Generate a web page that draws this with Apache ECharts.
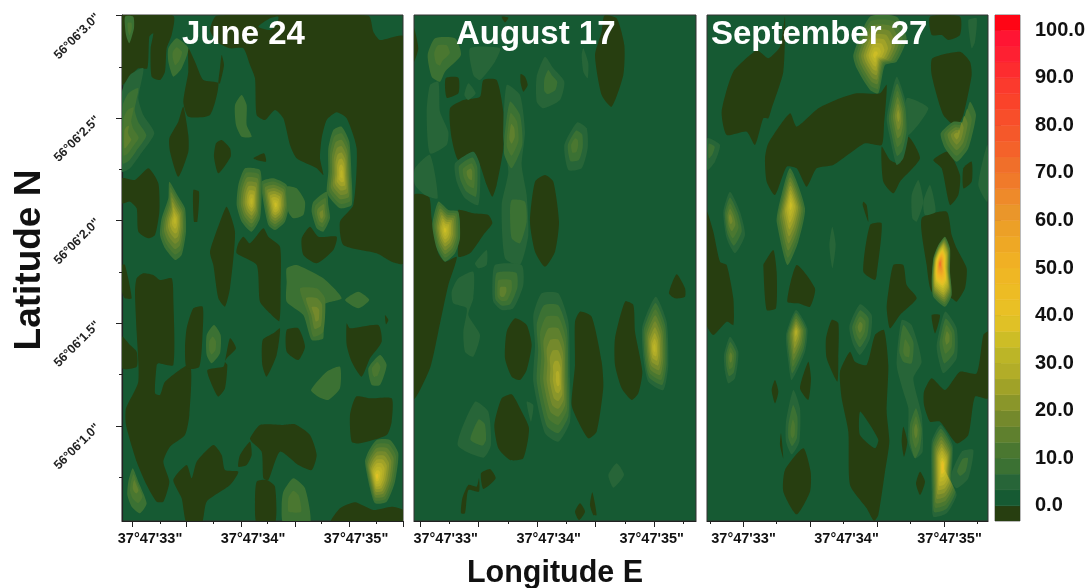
<!DOCTYPE html>
<html><head><meta charset="utf-8">
<style>html,body{margin:0;padding:0;background:#fff}#c{width:1091px;height:588px;filter:blur(0.5px)}</style>
<script src="https://cdn.jsdelivr.net/npm/echarts@6/dist/echarts.min.js"></script>
</head><body><div id="c"></div>
<script>
// Contour bands (colour bar): one band per 3.33 units, from below zero to just over 100
const bandColors=['#273e10','#165a33','#276538','#3b7133','#4a7730','#5f802e','#74892c','#8a962a','#a0a228','#b2ad28','#bcb527','#cdbd26','#e0c126','#e9c025','#edbc24','#efb724','#f0b024','#eea825','#eca027','#ea962a','#ee8a2a','#f07a2a','#f06f2a','#f4622a','#f5582a','#f84e2a','#fa432a','#fb3a2d','#fd2c2f','#fe2032','#ff1533','#ff0515'];
const bandStep=10/3;
const colorTicks=[0,10,20,30,40,50,60,70,80,90,100];
const lonLabelValues=[33,34,35];
const latLabelValues=[3.0,2.5,2.0,1.5,1.0];
const latMinorValues=[2.75,2.25,1.75,1.25,0.75];
const panelTitles=['June 24','August 17','September 27'];

// Digitised contours. Below-zero regions: flat x,y lists. Peaks: [peakX,peakY,peakValue,outerValue,[outline]]
const juneBelow=[
[36,32,190,32,185,90,170,130,165,200,150,225,125,215,122,130,130,85,118,95,112,190,85,190,60,215,36,240],
[235,130,255,170,280,225,325,235,300,330,235,335,220,290,235,200],
[335,150,342,180,330,235,325,235,330,190],
[320,32,775,32,790,80,810,105,880,95,880,775,845,770,800,745,700,720,690,650,730,600,740,430,710,340,680,322,650,345,635,400,630,460,640,510,620,490,560,460,540,420,520,340,495,315,465,345,440,330,435,220,420,180,400,130,360,130,320,110,300,75],
[220,305,235,390,235,440,205,515,180,440,178,400,205,350],
[335,405,360,430,362,455,325,505,312,455,318,415],
[430,460,462,445,468,470,440,465],
[36,520,75,525,115,490,145,535,148,620,135,690,115,700,85,680,80,610,60,590,36,595],
[250,555,267,560,262,650,252,650],
[350,605,375,680,360,850,345,905,325,880,310,780,300,740,330,650],
[385,715,400,695,420,715,460,670,475,695,510,725,512,850,508,948,480,925,450,890,440,780,380,745],
[575,700,600,665,625,695,680,695,670,735,620,775,580,750]];
const juneBelowLower=[
[80,40,100,25,130,30,150,45,185,40,190,100,190,300,145,295,140,300,135,385,150,390,165,350,240,300,238,450,225,510,180,545,160,590,178,650,160,710,140,710,110,660,80,590,48,480,48,430,85,350,80,200,75,80],
[36,0,45,0,65,100,45,100,36,80],
[36,215,60,240,80,260,80,305,36,310],
[230,190,250,130,278,125,278,200,268,305,230,310,225,250],
[360,220,378,250,350,280,345,290,352,300,345,370,325,395,310,370,292,315,340,305,345,290],
[458,225,490,205,510,190,500,270,470,335,457,300],
[530,195,565,190,585,245,565,285,530,260],
[710,175,720,190,805,180,815,230,780,280,755,335,725,290,710,240],
[825,150,835,165,828,178],
[738,395,780,400,845,400,845,470,830,510,750,535,725,530,720,450],
[420,520,450,480,520,480,555,478,600,510,620,570,605,615,565,600,510,560,475,645,460,640,455,560,425,530],
[390,570,420,530,425,570,410,600,385,605],
[190,645,230,600,245,640,260,590,310,540,335,570,345,615,385,620,360,660,290,710,275,775,230,775,215,700],
[440,650,470,645,495,665,495,775,440,775,435,710],
[662,775,690,730,735,712,790,735,845,725,880,735,880,775]];
const juneZero=[[445,65,480,40,505,35,500,60,480,75]];
const junePeaks=[
[60,70,10,7,[45,35,70,35,72,70,58,115,48,90]],
[200,150,13,7,[175,130,200,100,235,130,215,190,190,215,175,170]],
[45,410,16,5,[36,260,60,210,100,190,85,280,100,330,133,385,90,450,60,490,36,500]],
[395,330,8,7,[375,300,395,270,410,300,410,360,425,395,395,395,378,360]],
[695,510,33,7,[655,430,670,375,695,365,718,410,725,520,725,600,690,610,660,580,650,560,655,500]],
[425,590,32,7,[385,540,405,490,450,495,455,560,450,640,425,680,395,650,380,600]],
[497,600,34,7,[455,530,490,520,530,540,537,600,525,650,495,675,475,660,460,590]],
[560,590,9,7,[530,545,560,550,585,590,580,630,550,640,535,620]],
[635,630,18,7,[610,590,650,560,655,600,660,640,640,680,620,670,605,620]],
[195,645,30,7,[178,530,205,575,225,610,228,680,215,750,195,765,165,730,150,690,155,640,175,580]]];
const junePeaksLower=[
[800,635,38,7,[775,560,800,525,840,525,865,565,855,650,830,710,795,715,780,670,765,590]],
[550,710,12,7,[520,680,550,640,585,670,600,775,520,775,515,720]],
[75,660,14,7,[55,650,68,610,85,650,110,715,90,745,65,725,52,690]],
[305,245,12,7,[290,210,312,180,332,210,330,265,305,295,290,270]],
[420,255,6,7,[403,250,425,215,443,240,420,310,408,280]],
[600,80,7,7,[530,50,530,10,560,0,640,40,695,100,640,120,640,220,605,225,580,150,530,110]],
[620,150,18,10,[570,70,620,70,645,100,640,200,610,215,595,150]],
[745,105,7,7,[705,105,745,80,778,105,745,130]],
[795,310,10,7,[775,310,810,270,830,300,810,360,785,360]],
[860,300,6,7,[855,295,875,270,878,325,860,325]],
[650,350,8,7,[603,375,650,320,690,305,690,370,655,405,625,395]],
[75,180,6,7,[60,170,75,155,88,180,75,205]]];

const augBelow=[
[135,310,175,285,225,275,235,225,275,225,295,320,295,430,275,540,262,575,245,540,225,480,205,440,160,465,140,400],
[122,220,160,218,160,265,125,278],
[347,207,360,215,368,240,355,260,347,235],
[598,32,635,40,658,120,655,210,620,305,590,270,570,150,590,80],
[27,70,40,130,27,170],
[290,35,310,38,300,52],
[420,510,445,530,462,650,450,740,420,785,390,740,375,650,390,530],
[27,570,72,575,80,640,100,745,120,770,155,755,150,780,130,840,100,980,75,1090,27,1180],
[160,615,205,625,250,630,262,655,235,690,195,745,160,755,165,650]];
const augBelowLower=[
[305,200,330,160,365,180,380,240,365,315,345,345,320,335,300,280],
[268,480,290,400,320,388,345,430,372,490,355,580,315,585,280,550],
[510,170,525,140,560,155,590,290,595,365,575,500,550,520,520,470,500,420,510,300],
[630,220,660,110,685,120,690,200,712,320,700,385,680,405,650,370,630,300],
[792,85,815,28,840,70,840,95,810,100],
[228,625,255,612,272,640,235,672],
[168,745,172,700,190,660,215,665,222,640,222,680,190,675,180,745],
[510,740,525,715,540,740,522,765],
[555,720,562,682,575,750,565,750]];
const augPeaks=[
[105,140,10,7,[68,150,90,100,150,100,168,150,120,200,105,230,80,215]],
[220,170,6,5,[195,130,285,130,270,170,225,225,205,210]],
[438,230,9,5,[395,215,420,155,445,190,478,230,465,285,415,310,395,290]],
[540,170,4,4,[530,150,535,130,550,175,548,220,535,200]],
[507,420,12,5,[478,420,517,352,545,370,548,430,530,490,490,495]],
[190,265,5,4,[178,270,190,235,212,265,190,285]],
[100,340,6,5,[65,320,75,240,100,230,105,320,130,380,125,420,75,445]],
[340,640,6,5,[295,400,305,240,345,270,360,380,350,480,365,570,370,690,345,780,300,760,290,600,310,500]],
[320,385,15,8,[298,400,315,290,345,330,352,420,320,490,298,450]],
[340,640,9,8,[315,620,320,585,360,590,365,650,345,715,320,700]],
[195,505,15,5,[150,475,205,440,225,480,220,600,180,580,155,530]],
[60,520,5,4,[30,490,75,450,98,580,60,570,30,540]],
[120,675,36,7,[82,660,100,590,130,615,160,620,165,700,150,745,120,770,95,730]],
[230,760,5,4,[210,775,245,735,245,780,220,790]]];
const augPeaksLower=[
[175,70,6,5,[140,80,160,40,205,20,205,100,190,150,225,210,205,275,180,260,175,200,185,130,145,115]],
[290,85,14,5,[262,70,270,0,350,0,355,60,325,130,290,135,265,110]],
[460,345,29,5,[385,150,410,85,460,85,490,170,495,340,495,470,460,530,420,505,385,350,390,240]],
[748,250,33,5,[712,185,752,95,785,170,790,300,775,375,730,350,715,280]],
[230,510,7,5,[158,540,210,410,250,440,258,540,235,578]],
[373,430,4,4,[365,410,385,420,378,470]],
[632,630,6,5,[610,630,635,595,657,630,625,668]]];

const sepBelow=[
[255,35,250,200,215,310,205,340,190,340,165,420,140,380,80,390,65,320,100,200,170,135,185,145,205,160,240,125],
[205,415,270,325,290,365,355,310,420,280,470,265,540,265,560,240,552,360,545,420,495,415,450,445,400,480,350,490,320,545,290,490,260,485,225,570,200,530,195,460],
[545,425,570,465,600,475,625,395,660,460,600,530,580,565,550,530],
[690,35,780,35,780,90,745,105,725,90,695,90],
[697,160,780,140,810,170,815,210,790,330,770,365,730,330,695,210],
[700,465,745,440,780,510,775,570,750,600,725,490],
[790,490,815,470,815,530,790,550],
[665,640,740,620,755,690,770,730,800,790,795,850,770,890,755,880,695,860,680,780],
[20,620,40,680,60,770,80,780,100,880,100,960,80,950,40,990,20,960],
[195,770,220,735,230,800,228,910,200,915,190,780],
[510,660,545,655,530,810,525,825,490,800],
[490,590,500,600,505,650,488,600]];
const sepBelowLower=[
[262,110,290,0,345,70,330,125,295,115],
[580,0,610,0,620,60,650,100,600,150,570,190,560,130,565,80],
[695,150,720,150,705,205],
[395,165,415,175,415,280,412,350,380,280,378,220],
[450,260,465,290,500,300,525,210,552,195,565,300,560,440,568,530,555,620,535,750,522,768,500,730,450,660,445,500,425,400,420,320],
[672,380,695,340,735,375,780,320,830,325,850,210,864,200,864,400,825,395,805,510,770,535,720,470,690,470,672,420],
[225,345,235,380,225,415,215,375],
[325,290,333,340,325,405,300,370],
[243,505,250,580,240,540],
[610,485,622,530,612,575,605,530],
[660,620,675,650,660,690,648,655],
[255,615,310,550,332,620,330,680,290,748,250,680]];
const sepZeroLower=[[480,440,510,480,535,525,525,550,480,510]];
const sepPeaks=[
[525,150,34,7,[460,150,510,35,590,35,620,100,590,170,555,180,535,265,510,255,470,190]],
[640,310,6,5,[620,280,685,310,625,390]],
[595,330,22,5,[560,340,590,215,620,300,625,390,610,460,590,480,570,400]],
[770,390,22,7,[722,385,760,350,790,350,810,290,828,330,805,430,770,470,735,430]],
[272,600,36,7,[235,610,270,490,315,610,295,710,262,780,230,650]],
[90,640,18,5,[70,620,90,560,120,620,135,690,105,745,80,700]],
[30,430,7,5,[22,400,60,420,45,470,22,495]],
[397,720,6,5,[388,720,397,665,407,720,397,790]],
[653,590,6,5,[635,570,655,525,670,590,650,650,637,640]],
[690,590,6,5,[670,590,690,540,707,620,675,630]],
[820,100,5,4,[805,45,830,40,825,110,815,130]],
[848,510,4,4,[835,540,862,420,862,590]],
[720,775,72,7,[700,760,715,720,735,695,750,730,750,800,755,870,735,905,700,875,695,830]]];
const sepPeaksLower=[
[742,215,14,5,[710,240,735,140,770,190,770,280,730,325,715,280]],
[288,200,28,5,[258,210,288,135,322,190,315,260,275,345,265,290]],
[480,185,15,5,[448,185,480,118,515,150,510,220,480,270,460,240]],
[92,275,14,5,[72,270,90,215,115,260,105,340,85,355,75,320]],
[622,300,6,5,[590,300,605,165,635,180,665,290,640,340,665,450,668,560,645,580,625,530,625,430,610,380]],
[620,260,12,8,[598,260,610,180,640,230,635,295,610,290]],
[648,495,15,8,[630,480,648,430,665,490,660,550,645,580,630,530]],
[278,500,13,5,[258,470,280,375,300,430,298,530,275,568,258,530]],
[790,600,7,5,[750,640,785,560,820,555,805,640,770,670]],
[728,605,42,5,[695,530,722,480,758,540,755,650,770,690,740,745,700,755,695,680]]];

const lowerShift=780;
const latScale=205.2;
const panels=[
 {title:panelTitles[0],titleLeft:182,below:juneBelow,belowL:juneBelowLower,zero:juneZero,zeroL:[],peaks:junePeaks,peaksL:junePeaksLower,
  cropX:110,label33:150,left:122,right:403,
  major:[32.832,33.356,33.883,34.408,34.932,35.456],minor:[33.097,33.618,34.143,34.667,35.194]},
 {title:panelTitles[1],titleLeft:456,below:augBelow,belowL:augBelowLower,zero:[],zeroL:[],peaks:augPeaks,peaksL:augPeaksLower,
  cropX:405,label33:445.7,left:414,right:696,
  major:[32.753,33.320,33.889,34.456,35.022],minor:[33.035,33.605,34.171,34.741,35.307]},
 {title:panelTitles[2],titleLeft:711,below:sepBelow,belowL:sepBelowLower,zero:[],zeroL:sepZeroLower,peaks:sepPeaks,peaksL:sepPeaksLower,
  cropX:700,label33:743.5,left:707,right:988,
  major:[33.0,33.649,34.299,34.947],minor:[32.675,33.322,33.973,34.623,35.274]}];
const plotTop=15,plotBottom=521;
const bandOf=v=>Math.max(0,Math.min(bandColors.length-1,Math.floor((v+bandStep)/bandStep)));
const font='"Liberation Sans",Arial,sans-serif';

function buildShapes(p){
 const lon=d=>33+((d/3+p.cropX)-p.label33)/103;
 const lat=d=>3-((d/3+5)-15.5)/latScale;
 const pts=(l,sh)=>{const o=[];for(let i=0;i<l.length;i+=2)o.push([lon(l[i]),lat(l[i+1]+sh)]);return o;};
 const shapes=[];
 const add=(list,sh,band)=>list.forEach(l=>shapes.push({band,pts:pts(l,sh)}));
 add(p.below,0,0);add(p.belowL,lowerShift,0);add(p.zero,0,1);add(p.zeroL,lowerShift,1);
 const addPeaks=(list,sh)=>list.forEach(([px,py,val,outer,l])=>{
  const c=[lon(px),lat(py+sh)],o=pts(l,sh),b0=bandOf(outer),bp=bandOf(val);
  for(let b=b0;b<=bp;b++){
   const s=Math.pow((bp+1-b)/(bp+1-b0),1.1);
   shapes.push({band:b,pts:o.map(q=>[c[0]+(q[0]-c[0])*s,c[1]+(q[1]-c[1])*s])});
  }
 });
 addPeaks(p.peaks,0);addPeaks(p.peaksL,lowerShift);
 return shapes;
}

const gridList=[],xAxisList=[],yAxisList=[],seriesList=[],titleList=[];
const axisBlack='#222';
panels.forEach((p,i)=>{
 const shapes=buildShapes(p);
 const xMin=33+(p.left-p.label33)/103,xMax=33+(p.right-p.label33)/103;
 const yMax=3-(plotTop-15.5)/latScale,yMin=3-(plotBottom-15.5)/latScale;
 gridList.push({left:p.left,width:p.right-p.left,top:plotTop,height:plotBottom-plotTop,show:true,outerBoundsMode:'none',backgroundColor:bandColors[1],borderColor:'#333',borderWidth:1});
 const base={type:'value',gridIndex:i,min:xMin,max:xMax,splitLine:{show:false}};
 xAxisList.push({...base,position:'bottom',
  name:i===1?'Longitude E':'',nameLocation:'middle',nameGap:37,nameTextStyle:{fontFamily:font,fontWeight:'bold',fontSize:30.5,color:'#111'},
  axisLine:{show:true,lineStyle:{color:axisBlack,width:1.2}},
  axisTick:{show:true,length:6,customValues:p.major,lineStyle:{color:axisBlack,width:1}},
  axisLabel:{show:true,margin:10,customValues:lonLabelValues,fontFamily:font,fontWeight:'bold',fontSize:14.5,color:'#111',formatter:v=>`37°47'${Math.round(v)}"`}});
 xAxisList.push({...base,position:'bottom',axisLine:{show:false},axisLabel:{show:false},
  axisTick:{show:true,length:3,customValues:p.minor,lineStyle:{color:axisBlack,width:1}}});
 const yBase={type:'value',gridIndex:i,min:yMin,max:yMax,splitLine:{show:false},position:'left'};
 if(i===0){
  yAxisList.push({...yBase,name:'Latitude N',nameLocation:'middle',nameGap:71,nameRotate:90,nameTextStyle:{fontFamily:font,fontWeight:'bold',fontSize:37,color:'#111',padding:[0,0,0,16]},
   axisLine:{show:true,lineStyle:{color:axisBlack,width:1.2}},
   axisTick:{show:true,length:6,customValues:latLabelValues,lineStyle:{color:axisBlack}},
   axisLabel:{show:true,rotate:45,margin:24,customValues:latLabelValues,fontFamily:font,fontWeight:'bold',fontSize:12.5,color:'#222',formatter:v=>`56°06'${v.toFixed(1)}"`}});
  yAxisList.push({...yBase,axisLine:{show:false},axisLabel:{show:false},axisTick:{show:true,length:3,customValues:latMinorValues,lineStyle:{color:axisBlack}}});
 }else{
  yAxisList.push({...yBase,axisLine:{show:false},axisTick:{show:false},axisLabel:{show:false}});
  yAxisList.push({...yBase,axisLine:{show:false},axisTick:{show:false},axisLabel:{show:false}});
 }
 seriesList.push({type:'custom',name:p.title,coordinateSystem:'cartesian2d',xAxisIndex:i*2,yAxisIndex:i*2,clip:true,silent:true,animation:false,
  encode:{x:0,y:1},
  data:shapes.map((s,k)=>[s.pts[0][0],s.pts[0][1],s.band,k]),
  renderItem:(params,api)=>{
   const s=shapes[api.value(3)];
   return {type:'polygon',shape:{points:s.pts.map(q=>api.coord(q)),smooth:0.2},style:{fill:bandColors[s.band],stroke:null}};
  }});
 titleList.push({text:p.title,left:p.titleLeft,top:18,padding:0,textStyle:{fontFamily:font,fontWeight:'bold',fontSize:33,color:'#fff'},z:10});
});

// Colour bar
gridList.push({left:995,width:25,top:plotTop,height:plotBottom-plotTop,show:true,outerBoundsMode:'none',borderColor:'#777',borderWidth:1});
xAxisList.push({type:'value',gridIndex:3,min:0,max:1,show:false});
yAxisList.push({type:'value',gridIndex:3,min:-3.2,max:103.2,position:'right',splitLine:{show:false},
 axisLine:{show:false},axisTick:{show:true,length:6,customValues:colorTicks,lineStyle:{color:'#555'}},
 axisLabel:{show:true,margin:15,padding:[4,0,0,0],customValues:colorTicks,fontFamily:font,fontWeight:'bold',fontSize:20,color:'#111',formatter:v=>v.toFixed(1)}});
seriesList.push({type:'custom',name:'scale',coordinateSystem:'cartesian2d',xAxisIndex:6,yAxisIndex:6,clip:true,silent:true,animation:false,
 encode:{y:[0,1]},
 data:bandColors.map((c,b)=>[(b-1)*bandStep,b*bandStep,b]),
 renderItem:(params,api)=>{
  const a=api.coord([0,api.value(1)]),b=api.coord([1,api.value(0)]),col=bandColors[api.value(2)];
  return {type:'rect',shape:{x:a[0],y:a[1],width:b[0]-a[0],height:b[1]-a[1]},style:{fill:col,stroke:col,lineWidth:0.5}};
 }});

const chart=echarts.init(document.getElementById('c'),null,{renderer:'canvas'});
chart.setOption({animation:false,backgroundColor:'#fff',title:titleList,grid:gridList,xAxis:xAxisList,yAxis:yAxisList,series:seriesList});
</script></body></html>
